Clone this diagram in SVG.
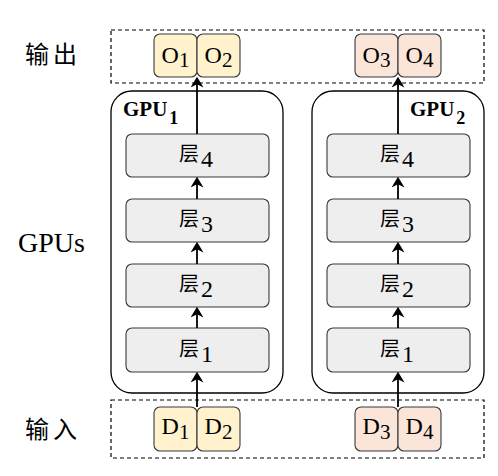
<svg xmlns="http://www.w3.org/2000/svg" width="498" height="476" viewBox="0 0 498 476">
  <style>
    .dash { fill: none; stroke: #000; stroke-width: 1.2; stroke-dasharray: 4 3; }
    .gpu { fill: #fff; stroke: #000; stroke-width: 1.3; }
    .layer { fill: #eeeeee; stroke: #36393d; stroke-width: 1.1; }
    .yel { fill: #fff2cc; stroke: #36393d; stroke-width: 1.1; }
    .pink { fill: #fbe4d8; stroke: #36393d; stroke-width: 1.1; }
    .lat { font-family: "Liberation Serif", "Times New Roman", serif; fill: #000; }
    .cjk { font-family: "Noto Sans CJK SC", "Noto Sans CJK JP", sans-serif; fill: #000; }
    .box { font-size: 24px; text-anchor: middle; }
    .sub { font-size: 21px; }
    .ln { font-size: 24px; }
    .lc { font-size: 20px; }
    .gl { font-size: 21px; font-weight: bold; }
    .gs { font-size: 18px; font-weight: bold; }
    .conn { stroke: #000; stroke-width: 1.8; fill: none; marker-end: url(#arr); }
  </style>
  <defs>
    <marker id="arr" viewBox="0 0 10 12" markerWidth="11" markerHeight="13" refX="7" refY="6" orient="auto" markerUnits="userSpaceOnUse">
      <path d="M0,0 L10,6 L0,12 L3,6 Z" fill="#000"/>
    </marker>
  </defs>

  <g id="labels">
    <text class="cjk" x="25" y="63" font-size="24" letter-spacing="4">输出</text>
    <text class="lat" x="18" y="252" font-size="28">GPUs</text>
    <text class="cjk" x="25" y="438" font-size="24" letter-spacing="4">输入</text>
  </g>

  <g id="output-area">
    <rect class="dash" x="111" y="30" width="373" height="53"/>
  </g>
  <g id="input-area">
    <rect class="dash" x="111" y="400" width="373" height="58"/>
  </g>

  <g id="gpu1">
    <rect class="gpu" x="111" y="91" width="172" height="302" rx="21"/>
    <text class="lat" x="123" y="116"><tspan class="gl">GPU</tspan><tspan class="gs" dx="2" dy="8">1</tspan></text>
  </g>
  <g id="gpu2">
    <rect class="gpu" x="312" y="91" width="172" height="302" rx="21"/>
    <text class="lat" x="410" y="116"><tspan class="gl">GPU</tspan><tspan class="gs" dx="2" dy="8">2</tspan></text>
  </g>

  <g id="g1-layer4"><rect class="layer" x="126" y="134" width="143" height="43" rx="6"/><text class="cjk lc" x="179" y="161">层</text><text class="lat ln" x="201" y="167">4</text></g>
  <g id="g1-layer3"><rect class="layer" x="126" y="199" width="143" height="43" rx="6"/><text class="cjk lc" x="179" y="226">层</text><text class="lat ln" x="201" y="232">3</text></g>
  <g id="g1-layer2"><rect class="layer" x="126" y="264" width="143" height="43" rx="6"/><text class="cjk lc" x="179" y="291">层</text><text class="lat ln" x="201" y="297">2</text></g>
  <g id="g1-layer1"><rect class="layer" x="126" y="328" width="143" height="44" rx="6"/><text class="cjk lc" x="179" y="356">层</text><text class="lat ln" x="201" y="362">1</text></g>

  <g id="g2-layer4"><rect class="layer" x="327" y="134" width="143" height="43" rx="6"/><text class="cjk lc" x="380" y="161">层</text><text class="lat ln" x="402" y="167">4</text></g>
  <g id="g2-layer3"><rect class="layer" x="327" y="199" width="143" height="43" rx="6"/><text class="cjk lc" x="380" y="226">层</text><text class="lat ln" x="402" y="232">3</text></g>
  <g id="g2-layer2"><rect class="layer" x="327" y="264" width="143" height="43" rx="6"/><text class="cjk lc" x="380" y="291">层</text><text class="lat ln" x="402" y="297">2</text></g>
  <g id="g2-layer1"><rect class="layer" x="327" y="328" width="143" height="44" rx="6"/><text class="cjk lc" x="380" y="356">层</text><text class="lat ln" x="402" y="362">1</text></g>

  <g id="o1"><rect class="yel" x="154" y="34" width="43" height="43" rx="6"/><text class="lat box" x="175.5" y="63">O<tspan class="sub" dy="4">1</tspan></text></g>
  <g id="o2"><rect class="yel" x="197" y="34" width="43" height="43" rx="6"/><text class="lat box" x="218.5" y="63">O<tspan class="sub" dy="4">2</tspan></text></g>
  <g id="o3"><rect class="pink" x="355" y="34" width="43" height="43" rx="6"/><text class="lat box" x="376.5" y="63">O<tspan class="sub" dy="4">3</tspan></text></g>
  <g id="o4"><rect class="pink" x="398" y="34" width="43" height="43" rx="6"/><text class="lat box" x="419.5" y="63">O<tspan class="sub" dy="4">4</tspan></text></g>

  <g id="d1"><rect class="yel" x="154" y="407" width="43" height="44" rx="6"/><text class="lat box" x="175.5" y="434">D<tspan class="sub" dy="5">1</tspan></text></g>
  <g id="d2"><rect class="yel" x="197" y="407" width="43" height="44" rx="6"/><text class="lat box" x="218.5" y="434">D<tspan class="sub" dy="5">2</tspan></text></g>
  <g id="d3"><rect class="pink" x="355" y="407" width="43" height="44" rx="6"/><text class="lat box" x="376.5" y="434">D<tspan class="sub" dy="5">3</tspan></text></g>
  <g id="d4"><rect class="pink" x="398" y="407" width="43" height="44" rx="6"/><text class="lat box" x="419.5" y="434">D<tspan class="sub" dy="5">4</tspan></text></g>

  <g id="connectors">
    <line class="conn" x1="197" y1="407" x2="197" y2="375"/>
    <line class="conn" x1="197" y1="328" x2="197" y2="310"/>
    <line class="conn" x1="197" y1="264" x2="197" y2="245"/>
    <line class="conn" x1="197" y1="199" x2="197" y2="180"/>
    <line class="conn" x1="197" y1="134" x2="197" y2="80"/>
    <line class="conn" x1="398" y1="407" x2="398" y2="375"/>
    <line class="conn" x1="398" y1="328" x2="398" y2="310"/>
    <line class="conn" x1="398" y1="264" x2="398" y2="245"/>
    <line class="conn" x1="398" y1="199" x2="398" y2="180"/>
    <line class="conn" x1="398" y1="134" x2="398" y2="80"/>
  </g>
</svg>
